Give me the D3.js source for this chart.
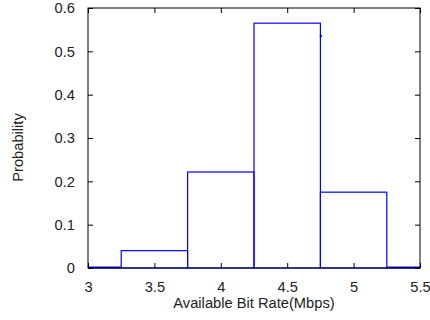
<!DOCTYPE html>
<html>
<head>
<meta charset="utf-8">
<script src="https://cdn.jsdelivr.net/npm/d3@7"></script>
<style>
  html, body { margin: 0; padding: 0; background: #fff; }
  svg { display: block; font-family: "Liberation Sans", Arial, sans-serif; }
</style>
</head>
<body>
<svg id="chart" width="430" height="320"></svg>
<script>
// Histogram of available bit rate: bin centres and probabilities
const binCenters = [3.0, 3.5, 4.0, 4.5, 5.0, 5.5];
const probabilities = [0.002, 0.040, 0.2215, 0.565, 0.175, 0.002];
const binWidth = 0.5;
// stray sample marker drawn on the plot
const markerX = [4.75];
const markerY = [0.535];
const xTicks = [3, 3.5, 4, 4.5, 5, 5.5];
const yTicks = [0, 0.1, 0.2, 0.3, 0.4, 0.5, 0.6];

const FONT = 14.7;
const svg = d3.select("#chart");
const m = { left: 88, top: 8, right: 10, bottom: 52 };
const W = 430 - m.left - m.right;
const H = 320 - m.top - m.bottom;

const x = d3.scaleLinear().domain([3, 5.5]).range([0, W]);
const y = d3.scaleLinear().domain([0, 0.6]).range([H, 0]);

const g = svg.append("g").attr("transform", `translate(${m.left},${m.top})`);

g.append("clipPath").attr("id", "plotclip")
  .append("rect").attr("x", 0).attr("y", -1).attr("width", W).attr("height", H + 2);

// bars
g.append("g").attr("clip-path", "url(#plotclip)")
  .selectAll("rect").data(binCenters).join("rect")
  .attr("x", (d) => x(d - binWidth / 2))
  .attr("width", (d) => x(d + binWidth / 2) - x(d - binWidth / 2))
  .attr("y", (d, i) => y(probabilities[i]))
  .attr("height", (d, i) => y(0) - y(probabilities[i]))
  .attr("fill", "none")
  .attr("stroke", "#0000ff")
  .attr("stroke-width", 1.2);

g.selectAll("rect.marker").data(markerX).join("rect")
  .attr("class", "marker")
  .attr("x", (d) => x(d) - 0.5)
  .attr("y", (d, i) => y(markerY[i]) - 1)
  .attr("width", 2).attr("height", 2)
  .attr("fill", "#0000ff");

// axes with inward ticks, box on all sides
const tickLen = 5;
const styleAxis = (sel) => {
  sel.select(".domain").remove();
  sel.selectAll(".tick line").attr("stroke", "#000");
  sel.selectAll(".tick text").attr("fill", "#222").attr("font-size", FONT);
};

g.append("g").attr("transform", `translate(0,${H})`)
  .call(d3.axisBottom(x).tickValues(xTicks).tickFormat(d3.format("")).tickSizeInner(-tickLen).tickSizeOuter(0).tickPadding(13.5))
  .call(styleAxis);
g.append("g")
  .call(d3.axisTop(x).tickValues(xTicks).tickFormat("").tickSizeInner(-tickLen).tickSizeOuter(0))
  .call(styleAxis);
g.append("g")
  .call(d3.axisLeft(y).tickValues(yTicks).tickFormat(d3.format("")).tickSizeInner(-tickLen).tickSizeOuter(0).tickPadding(13))
  .call(styleAxis);
g.append("g").attr("transform", `translate(${W},0)`)
  .call(d3.axisRight(y).tickValues(yTicks).tickFormat("").tickSizeInner(-tickLen).tickSizeOuter(0))
  .call(styleAxis);

g.append("rect").attr("x", 0).attr("y", 0).attr("width", W).attr("height", H)
  .attr("fill", "none").attr("stroke", "#000").attr("stroke-width", 1);

// titles
svg.append("text")
  .attr("x", m.left + W / 2).attr("y", 308)
  .attr("text-anchor", "middle").attr("font-size", FONT).attr("fill", "#222")
  .text("Available Bit Rate(Mbps)");
svg.append("text")
  .attr("transform", "translate(23,147.5) rotate(-90)")
  .attr("text-anchor", "middle").attr("font-size", FONT).attr("fill", "#222")
  .text("Probability");
</script>
</body>
</html>
